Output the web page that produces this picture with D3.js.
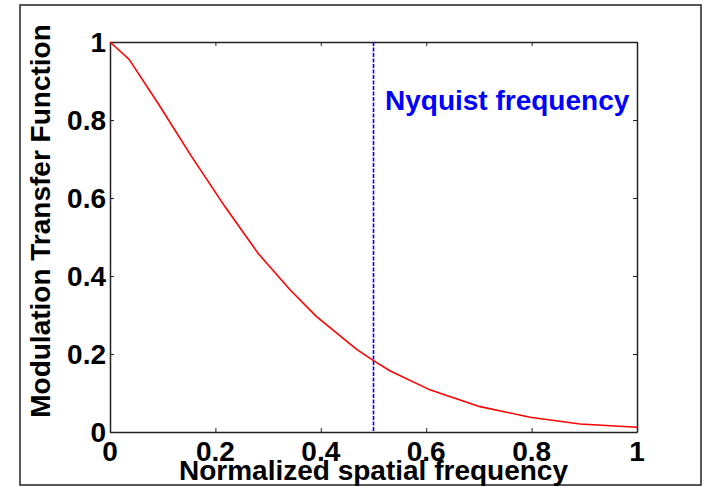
<!DOCTYPE html>
<html>
<head>
  <meta charset="utf-8">
  <title>MTF</title>
  <script src="https://d3js.org/d3.v7.min.js"></script>
  <style>
    body { margin: 0; background: #fff; }
    text { font-family: "Liberation Sans", Arial, sans-serif; font-weight: bold; }
  </style>
</head>
<body>
<svg width="706" height="487"></svg>
<script>
// values
var freq = [0, 0.036, 0.091, 0.154, 0.218, 0.281, 0.342, 0.392, 0.468, 0.5, 0.531, 0.607, 0.702, 0.797, 0.892, 1]
var mtf  = [1, 0.956, 0.843, 0.708, 0.578, 0.458, 0.364, 0.296, 0.212, 0.183, 0.157, 0.108, 0.065, 0.038, 0.0205, 0.012]
var xTicks = [0, 0.2, 0.4, 0.6, 0.8, 1]
var yTicks = [0, 0.2, 0.4, 0.6, 0.8, 1]
var nyquist = 0.5

var svg = d3.select('svg')
var plotLeft = 110, plotRight = 637, plotTop = 42, plotBottom = 432

var x = d3.scaleLinear().domain([0, 1]).range([plotLeft, plotRight])
var y = d3.scaleLinear().domain([0, 1]).range([plotBottom, plotTop])

// outer frame
svg.append('rect')
  .attr('x', 20).attr('y', 5).attr('width', 681).attr('height', 480)
  .attr('fill', 'none').attr('stroke', '#222').attr('stroke-width', 1.5)

function fmt(d) { return d === 0 || d === 1 ? String(d) : d.toFixed(1) }

// ticks pointing inward on all four sides
svg.append('g').attr('transform', 'translate(0,' + plotBottom + ')')
  .call(d3.axisBottom(x).tickValues(xTicks).tickSizeInner(-4).tickSizeOuter(0).tickFormat(''))
svg.append('g').attr('transform', 'translate(0,' + plotTop + ')')
  .call(d3.axisTop(x).tickValues(xTicks).tickSizeInner(-4).tickSizeOuter(0).tickFormat(''))
svg.append('g').attr('transform', 'translate(' + plotLeft + ',0)')
  .call(d3.axisLeft(y).tickValues(yTicks).tickSizeInner(-4).tickSizeOuter(0).tickFormat(''))
svg.append('g').attr('transform', 'translate(' + plotRight + ',0)')
  .call(d3.axisRight(y).tickValues(yTicks).tickSizeInner(-4).tickSizeOuter(0).tickFormat(''))
svg.selectAll('.domain').attr('stroke', '#222').attr('stroke-width', 1.5)
svg.selectAll('.tick line').attr('stroke', '#222')

// tick labels
svg.append('g').selectAll('text').data(xTicks).enter().append('text')
  .attr('x', function (d) { return x(d) })
  .attr('y', 461)
  .attr('text-anchor', 'middle')
  .attr('font-size', 28)
  .text(fmt)

svg.append('g').selectAll('text').data(yTicks).enter().append('text')
  .attr('x', plotLeft - 4)
  .attr('y', function (d) { return y(d) + 10 })
  .attr('text-anchor', 'end')
  .attr('font-size', 28)
  .text(fmt)

// axis titles
svg.append('text')
  .attr('x', (plotLeft + plotRight) / 2).attr('y', 480)
  .attr('text-anchor', 'middle').attr('font-size', 28)
  .text('Normalized spatial frequency')

svg.append('text')
  .attr('transform', 'translate(50,221) rotate(-90)')
  .attr('text-anchor', 'middle').attr('font-size', 28)
  .text('Modulation Transfer Function')

// nyquist marker
svg.append('line')
  .attr('x1', x(nyquist)).attr('x2', x(nyquist))
  .attr('y1', y(1)).attr('y2', y(0))
  .attr('stroke', '#0000ff').attr('stroke-width', 1.6)
  .attr('stroke-dasharray', '4,1.5')

svg.append('text')
  .attr('x', 385).attr('y', 110)
  .attr('font-size', 28).attr('fill', '#0000ff')
  .text('Nyquist frequency')

// curve
var line = d3.line()
  .x(function (d, i) { return x(freq[i]) })
  .y(function (d) { return y(d) })

svg.append('path')
  .datum(mtf)
  .attr('d', line)
  .attr('fill', 'none')
  .attr('stroke', '#ff0000')
  .attr('stroke-width', 1.6)
</script>
</body>
</html>
